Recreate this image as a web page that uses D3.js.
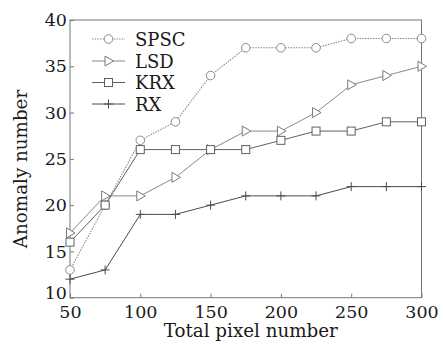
<!DOCTYPE html>
<html><head><meta charset="utf-8">
<script src="https://cdn.jsdelivr.net/npm/d3@7"></script>
<style>body{margin:0;background:#fff}svg{display:block}</style>
</head><body>
<script>
const xValues = [50,75,100,125,150,175,200,225,250,275,300];
const spsc = [13,20,27,29,34,37,37,37,38,38,38];
const lsd  = [17,21,21,23,26,28,28,30,33,34,35];
const krx  = [16,20,26,26,26,26,27,28,28,29,29];
const rx   = [12,13,19,19,20,21,21,21,22,22,22];
const xTicks = [50,100,150,200,250,300];
const yTicks = [10,15,20,25,30,35,40];
const seriesNames = ["SPSC","LSD","KRX","RX"];

const W=443,H=344;
const m={l:70,r:21.5,t:20,b:46.3};
const svg=d3.select("body").append("svg").attr("width",W).attr("height",H);
const x=d3.scaleLinear().domain([50,300]).range([m.l,W-m.r]);
const y=d3.scaleLinear().domain([10,40]).range([H-m.b,m.t]);
const font="DejaVu Serif";
const axisCol="#777";
const txtCol="#1a1a1a";

// frame
svg.append("rect").attr("x",x(50)).attr("y",y(40)).attr("width",x(300)-x(50)).attr("height",y(10)-y(40))
  .attr("fill","none").attr("stroke",axisCol).attr("stroke-width",1);

const xa=svg.append("g").attr("transform",`translate(0,${y(10)})`)
  .call(d3.axisBottom(x).tickValues(xTicks).tickSizeInner(-4).tickSizeOuter(0).tickPadding(7.5));
const ya=svg.append("g").attr("transform",`translate(${x(50)},0)`)
  .call(d3.axisLeft(y).tickValues(yTicks).tickSizeInner(-4).tickSizeOuter(0).tickPadding(3));
[xa,ya].forEach(g=>{
  g.select(".domain").remove();
  g.selectAll("line").attr("stroke",axisCol);
  g.selectAll("text").attr("font-family",font).attr("font-size",17.5).attr("fill",txtCol);
});
// keep lowest y label clear of the first x label
ya.selectAll(".tick").filter(d=>d===10).select("text").attr("dy","0.02em");

svg.append("text").attr("x",(x(50)+x(300))/2+5).attr("y",337).attr("text-anchor","middle")
  .attr("font-family",font).attr("font-size",18.3).attr("fill",txtCol).text("Total pixel number");
svg.append("text").attr("transform",`translate(27,169) rotate(-90)`).attr("text-anchor","middle")
  .attr("font-family",font).attr("font-size",18.3).attr("fill",txtCol).text("Anomaly number");

const data=[spsc,lsd,krx,rx];
const styles=[
  {stroke:"#8a8a8a",dash:"1.5,1.2",w:1.1,marker:"circle"},
  {stroke:"#7a7a7a",dash:null,w:0.9,marker:"tri"},
  {stroke:"#606060",dash:null,w:1,marker:"square"},
  {stroke:"#4a4a4a",dash:null,w:1,marker:"plus"}
];
const line=d3.line().x((d,i)=>x(xValues[i])).y(d=>y(d));

function drawMarker(g,type,cx,cy,col){
  if(type==="circle") g.append("circle").attr("cx",cx).attr("cy",cy).attr("r",4.3).attr("fill","#fff").attr("stroke",col).attr("stroke-width",1);
  else if(type==="square") g.append("rect").attr("x",cx-4).attr("y",cy-4).attr("width",8).attr("height",8).attr("fill","#fff").attr("stroke",col).attr("stroke-width",1);
  else if(type==="tri") g.append("path").attr("d",`M${cx-3.5},${cy-5}L${cx+5},${cy}L${cx-3.5},${cy+5}Z`).attr("fill","#fff").attr("stroke",col).attr("stroke-width",1);
  else g.append("path").attr("d",`M${cx-4.5},${cy}H${cx+4.5}M${cx},${cy-4.5}V${cy+4.5}`).attr("stroke",col).attr("stroke-width",1);
}

data.forEach((s,k)=>{
  const st=styles[k];
  const g=svg.append("g");
  g.append("path").datum(s).attr("d",line).attr("fill","none").attr("stroke",st.stroke)
   .attr("stroke-width",st.w).attr("stroke-dasharray",st.dash);
  s.forEach((v,i)=>drawMarker(g,st.marker,x(xValues[i]),y(v),st.stroke));
});

// legend
const ly=[39,61,82.5,104];
seriesNames.forEach((n,k)=>{
  const st=styles[k];
  const g=svg.append("g");
  g.append("line").attr("x1",92).attr("x2",125).attr("y1",ly[k]).attr("y2",ly[k]).attr("stroke",st.stroke)
   .attr("stroke-width",st.w).attr("stroke-dasharray",st.dash);
  drawMarker(g,st.marker,108.5,ly[k],st.stroke);
  g.append("text").attr("x",135).attr("y",ly[k]+6.5).attr("font-family",font).attr("font-size",18).attr("fill",txtCol).text(n);
});
</script>
</body></html>
